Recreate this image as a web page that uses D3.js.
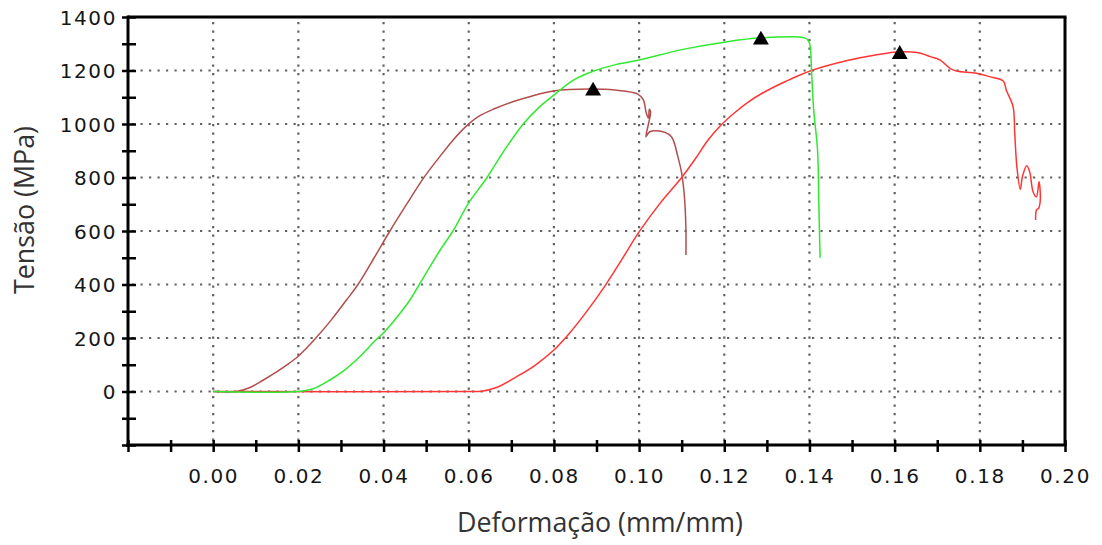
<!DOCTYPE html>
<html>
<head>
<meta charset="utf-8">
<script src="https://cdn.jsdelivr.net/npm/d3@7"></script>
<style>
  html, body { margin: 0; padding: 0; background: #fff; }
  svg { display: block; }
</style>
</head>
<body>
<svg id="chart" width="1102" height="545"></svg>
<script>
// Stress–strain curves of three tensile specimens (strain mm/mm, stress MPa)
const brownCurve = [
  [0, 0], [0.0055, 0], [0.0085, 14], [0.0117, 42], [0.0148, 72], [0.0178, 105],
  [0.02, 132], [0.0219, 162], [0.0239, 196], [0.0276, 265], [0.0313, 342],
  [0.034, 400], [0.0378, 500], [0.0415, 600], [0.0455, 702], [0.0493, 796],
  [0.0533, 880], [0.0565, 943], [0.0593, 990], [0.0625, 1030], [0.066, 1057],
  [0.0705, 1084], [0.0743, 1102], [0.0802, 1124], [0.0884, 1131], [0.0943, 1127],
  [0.0997, 1112], [0.101, 1090], [0.1017, 1040], [0.1022, 1022], [0.1024, 1055],
  [0.1027, 1045], [0.1022, 1000], [0.1016, 952], [0.1025, 971], [0.1056, 971],
  [0.1076, 952], [0.1091, 878], [0.11, 816], [0.1107, 716], [0.111, 600],
  [0.111, 510]
];

const greenCurve = [
  [0, 0], [0.02, 0], [0.0235, 10], [0.0274, 43], [0.031, 82], [0.0344, 130],
  [0.0384, 196], [0.0399, 218], [0.043, 275], [0.0462, 342], [0.0484, 400],
  [0.0533, 529], [0.0563, 600], [0.06, 705], [0.0643, 800], [0.0685, 905],
  [0.0728, 1000], [0.0765, 1062], [0.08, 1108], [0.0845, 1163], [0.0892, 1197],
  [0.0945, 1222], [0.10, 1239], [0.11, 1278], [0.12, 1306], [0.1286, 1322],
  [0.1389, 1322], [0.1398, 1310], [0.1402, 1289], [0.1405, 1195], [0.141, 1050],
  [0.1419, 903], [0.1422, 700], [0.1425, 500]
];

const redCurve = [
  [0, 0], [0.06, 0], [0.063, 1], [0.0665, 15], [0.0712, 55], [0.0755, 97],
  [0.08, 155], [0.0835, 215], [0.0875, 295], [0.092, 395], [0.096, 495],
  [0.0998, 592], [0.105, 705], [0.11, 800], [0.1132, 870], [0.1162, 940],
  [0.1192, 995], [0.1225, 1043], [0.1257, 1083], [0.1289, 1115], [0.1345, 1160],
  [0.1405, 1200], [0.1494, 1239], [0.1555, 1258], [0.1612, 1270], [0.1653, 1267],
  [0.1684, 1252], [0.1707, 1239], [0.173, 1208], [0.1745, 1198], [0.1792, 1190],
  [0.1823, 1177], [0.1855, 1161], [0.1862, 1127], [0.1878, 1065], [0.1882, 965],
  [0.1887, 840], [0.1895, 756], [0.19, 803], [0.191, 844], [0.1917, 822],
  [0.1925, 747], [0.1933, 728], [0.1939, 784], [0.1942, 716], [0.1938, 685],
  [0.1933, 678], [0.1931, 641]
];

// Peak (ultimate strength) markers
const peakStrain = [0.0892, 0.1286, 0.1612];
const peakStress = [1131, 1322, 1268];

const xTickValues = [0.00, 0.02, 0.04, 0.06, 0.08, 0.10, 0.12, 0.14, 0.16, 0.18, 0.20];
const xTickLabels = ["0.00", "0.02", "0.04", "0.06", "0.08", "0.10", "0.12", "0.14", "0.16", "0.18", "0.20"];
const yTickValues = [0, 200, 400, 600, 800, 1000, 1200, 1400];
const yTickLabels = ["0", "200", "400", "600", "800", "1000", "1200", "1400"];

const xTitle = "Deformação (mm/mm)";
const yTitle = "Tensão (MPa)";

const svg = d3.select("#chart");

const x = d3.scaleLinear().domain([-0.02, 0.20]).range([128, 1065]);
const y = d3.scaleLinear().domain([-200, 1400]).range([445, 17]);

const minorX = d3.range(-2, 21).map(i => i / 100);
const minorY = d3.range(-200, 1401, 100);

// dotted grid
const grid = svg.append("g").attr("stroke", "#626262").attr("stroke-width", 2.2)
  .attr("stroke-dasharray", "2.2,6.3").attr("fill", "none");
grid.selectAll("line.v").data(xTickValues.filter(v => v < 0.2)).join("line")
  .attr("class", "v")
  .attr("x1", d => x(d)).attr("x2", d => x(d))
  .attr("y1", y(1400) + 5).attr("y2", y(-200));
grid.selectAll("line.h").data(yTickValues.filter(v => v < 1400)).join("line")
  .attr("class", "h")
  .attr("x1", x(-0.02) + 4).attr("x2", x(0.2))
  .attr("y1", d => y(d)).attr("y2", d => y(d));

// curves
const line = d3.line()
  .x(d => x(d[0])).y(d => y(d[1]))
  .curve(d3.curveCatmullRom.alpha(0.5));

const series = [
  { data: brownCurve, color: "#b24e4e" },
  { data: redCurve, color: "#ff3535" },
  { data: greenCurve, color: "#2eea2e" }
];
svg.append("g").selectAll("path").data(series).join("path")
  .attr("d", d => line(d.data))
  .attr("fill", "none")
  .attr("stroke", d => d.color)
  .attr("stroke-width", 1.5)
  .attr("stroke-linejoin", "round");

// peak markers
const tri = d3.symbol().type(d3.symbolTriangle).size(110);
svg.append("g").selectAll("path").data(peakStrain.map((s, i) => [s, peakStress[i]])).join("path")
  .attr("d", tri)
  .attr("transform", d => `translate(${x(d[0])},${y(d[1]) + 2})`)
  .attr("fill", "#000");

// frame: top and right borders
svg.append("line").attr("x1", x(-0.02)).attr("x2", x(0.2) + 1.5)
  .attr("y1", y(1400)).attr("y2", y(1400))
  .attr("stroke", "#000").attr("stroke-width", 3);
svg.append("line").attr("x1", x(0.2)).attr("x2", x(0.2))
  .attr("y1", y(1400)).attr("y2", y(-200))
  .attr("stroke", "#000").attr("stroke-width", 3);

// x axis
const xAxis = d3.axisBottom(x).tickValues(minorX).tickSize(0)
  .tickFormat(d => {
    const i = xTickValues.findIndex(v => Math.abs(v - d) < 1e-9);
    return i >= 0 ? xTickLabels[i] : "";
  });
const gx = svg.append("g").attr("transform", `translate(0,${y(-200)})`).call(xAxis);
gx.select(".domain").attr("stroke", "#000").attr("stroke-width", 3)
  .attr("d", `M${x(-0.02) - 2},0H${x(0.2) + 1.5}`);
gx.selectAll(".tick line").attr("y1", -5).attr("y2", 7).attr("stroke", "#000").attr("stroke-width", 2.5);
gx.selectAll(".tick text").attr("y", 38).attr("dy", 0)
  .attr("font-family", "DejaVu Sans, Verdana, sans-serif").attr("font-size", 20)
  .attr("letter-spacing", 1.6).attr("fill", "#161616");

// y axis
const yAxis = d3.axisLeft(y).tickValues(minorY).tickSize(0)
  .tickFormat(d => {
    const i = yTickValues.indexOf(d);
    return i >= 0 ? yTickLabels[i] : "";
  });
const gy = svg.append("g").attr("transform", `translate(${x(-0.02)},0)`).call(yAxis);
gy.select(".domain").attr("stroke", "#000").attr("stroke-width", 3)
  .attr("d", `M0,${y(1400) - 1.5}V${y(-200) + 2}`);
gy.selectAll(".tick line").attr("x1", -6).attr("x2", 8).attr("stroke", "#000").attr("stroke-width", 2.5);
gy.selectAll(".tick text").attr("x", -11).attr("dy", "0.36em")
  .attr("font-family", "DejaVu Sans, Verdana, sans-serif").attr("font-size", 20)
  .attr("letter-spacing", 1.6).attr("fill", "#161616");

// axis titles
svg.append("text")
  .attr("x", 600).attr("y", 532)
  .attr("text-anchor", "middle")
  .attr("font-family", "Open Sans, Noto Sans, sans-serif")
  .attr("font-size", 26.8).attr("fill", "#333")
  .text(xTitle);
svg.append("text")
  .attr("transform", "translate(33.5,210) rotate(-90)")
  .attr("text-anchor", "middle")
  .attr("font-family", "Open Sans, Noto Sans, sans-serif")
  .attr("font-size", 26.8).attr("fill", "#333")
  .text(yTitle);
</script>
</body>
</html>
